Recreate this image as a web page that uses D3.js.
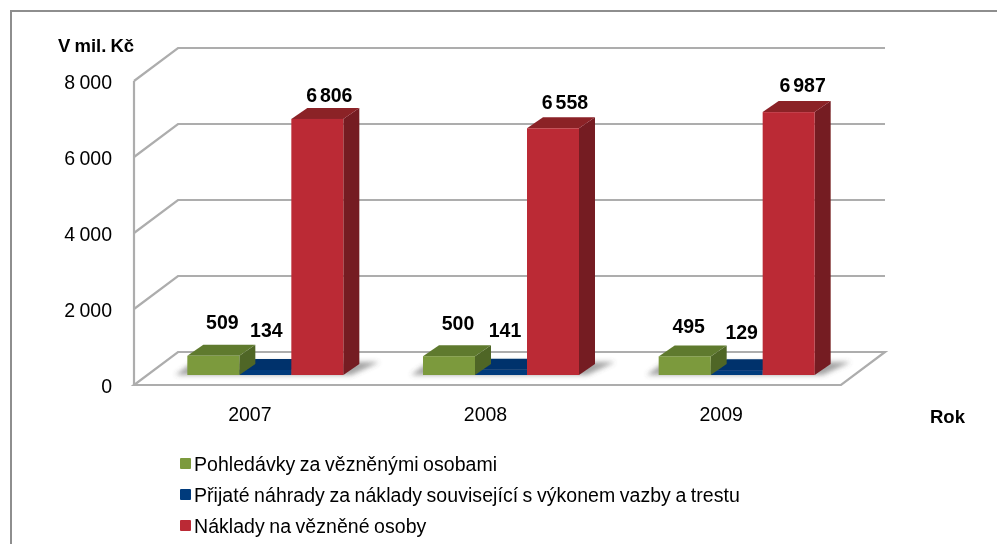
<!DOCTYPE html>
<html lang="cs">
<head>
<meta charset="utf-8">
<title>Náklady na vězněné osoby</title>
<script src="https://cdn.jsdelivr.net/npm/d3@7"></script>
<style>
  html, body { margin: 0; padding: 0; background: #fff; }
  svg { display: block; }
  text { font-family: "Liberation Sans", Arial, sans-serif; fill: #000; }
  .axis text { font-size: 19.5px; word-spacing: -1px; }
  .axis path, .axis line { display: none; }
  .val { font-size: 19.5px; font-weight: bold; text-anchor: middle; word-spacing: -2.5px; }
  .title { font-size: 18.5px; font-weight: bold; word-spacing: -1px; }
  .legend text { font-size: 19.5px; word-spacing: -1px; letter-spacing: 0.05px; }
</style>
</head>
<body>
<div id="chart"></div>
<script>
const years = ['2007', '2008', '2009'];
const seriesNames = [
  'Pohledávky za vězněnými osobami',
  'Přijaté náhrady za náklady související s výkonem vazby a trestu',
  'Náklady na vězněné osoby'
];
const pohledavky = [509, 500, 495];
const nahrady = [134, 141, 129];
const naklady = [6806, 6558, 6987];
const yTicks = [0, 2000, 4000, 6000, 8000];

const seriesColors = [
  { front: '#7c9a3d', top: '#5f7a2f', side: '#4f6628' },
  { front: '#063a7c', top: '#02326c', side: '#02295a' },
  { front: '#bb2a35', top: '#8b2028', side: '#741a20' }
];
const seriesValues = [pohledavky, nahrady, naklady];

// ruční posuny popisků oproti středu sloupce
const labelShift = [
  [{ x: 9, y: -16 }, { x: 9, y: -15 }, { x: 4, y: -12 }],
  [{ x: 1, y: -22 }, { x: 4, y: -22 }, { x: 5, y: -20 }],
  [{ x: 12, y: -6 }, { x: 12, y: -8 }, { x: 14, y: -9 }]
];

const W = 997, H = 544;
const axisLeft = 134, axisRight = 841, axisBottom = 385, axisTop = 81;
const wallDx = 44, wallDy = -33;        // hloubka grafu
const barDx = 13.5;                     // posun sloupce od přední hrany
const barBase = 375, barTop = 74;       // sloupce stojí uprostřed hloubky
const depthDx = 16, depthDy = -11;      // hloubka sloupce
const grid = '#adadad';

const svg = d3.select('#chart').append('svg').attr('width', W).attr('height', H);

const defs = svg.append('defs');
defs.append('filter').attr('id', 'soft')
  .attr('x', '-2%').attr('y', '-2%').attr('width', '104%').attr('height', '104%')
  .append('feGaussianBlur').attr('stdDeviation', 0.45);
defs.append('filter').attr('id', 'shadow')
  .attr('x', '-30%').attr('y', '-50%').attr('width', '160%').attr('height', '200%')
  .append('feGaussianBlur').attr('stdDeviation', 2.5);

const root = svg.append('g').attr('filter', 'url(#soft)');

// rámeček je vidět jen nahoře a vlevo
root.append('path')
  .attr('d', d3.line()([[11, H + 10], [11, 11], [W + 10, 11]]))
  .attr('fill', 'none').attr('stroke', '#8e8e8e').attr('stroke-width', 2);

const y = d3.scaleLinear().domain([0, 8000]).range([axisBottom, axisTop]);
const yBar = d3.scaleLinear().domain([0, 8000]).range([barBase, barTop]);
const x0 = d3.scaleBand().domain(years).range([axisLeft, axisRight]);
const x1 = d3.scaleBand().domain(d3.range(3)).range([0, 156]);
const fmt = d3.formatLocale({ thousands: ' ', grouping: [3], decimal: ',', currency: ['', ' Kč'] }).format(',');
const groupX = yr => x0(yr) + (x0.bandwidth() - 156) / 2 + barDx;

// Grid (stěny a podlaha)
const wall = root.append('g').attr('fill', 'none').attr('stroke', grid).attr('stroke-width', 2.2);
yTicks.filter(d => d > 0).forEach(d => {
  wall.append('path').attr('d', d3.line()([
    [axisLeft, y(d)], [axisLeft + wallDx, y(d) + wallDy], [axisRight + wallDx, y(d) + wallDy]
  ]));
});
wall.append('path').attr('d', d3.line()([
  [axisLeft, axisBottom], [axisRight, axisBottom], [axisRight + wallDx, axisBottom + wallDy],
  [axisLeft + wallDx, axisBottom + wallDy]
]) + 'Z');
wall.append('path').attr('d', d3.line()([[axisLeft, axisTop], [axisLeft, axisBottom]]));

// Stín pod sloupci
years.forEach(yr => {
  const bx = groupX(yr);
  root.append('path')
    .attr('d', d3.line()([
      [bx - 12, barBase], [bx + 164, barBase], [bx + 192, barBase - 13], [bx + 6, barBase - 13]
    ]) + 'Z')
    .attr('fill', '#666').attr('opacity', 0.6).attr('filter', 'url(#shadow)');
});

// Sloupce: modrá se kreslí první, protože zelená boční stěna ji překrývá
const drawOrder = [1, 0, 2];
const bars = root.append('g');
years.forEach((yr, i) => {
  const gx = groupX(yr);
  drawOrder.forEach(s => {
    const v = seriesValues[s][i];
    const c = seriesColors[s];
    const xl = gx + x1(s), xr = xl + x1.bandwidth();
    const yt = yBar(v), yb = yBar(0);
    const g = bars.append('g');
    g.append('path').attr('fill', c.side).attr('d', d3.line()([
      [xr, yt], [xr + depthDx, yt + depthDy], [xr + depthDx, yb + depthDy], [xr, yb]
    ]) + 'Z');
    g.append('path').attr('fill', c.top).attr('d', d3.line()([
      [xl, yt], [xl + depthDx, yt + depthDy], [xr + depthDx, yt + depthDy], [xr, yt]
    ]) + 'Z');
    g.append('rect').attr('x', xl).attr('y', yt)
      .attr('width', xr - xl).attr('height', yb - yt).attr('fill', c.front);
  });
});

// Popisky hodnot
years.forEach((yr, i) => {
  const gx = groupX(yr);
  seriesValues.forEach((vals, s) => {
    const shift = labelShift[s][i];
    root.append('text').attr('class', 'val')
      .attr('x', gx + x1(s) + x1.bandwidth() / 2 + shift.x)
      .attr('y', yBar(vals[i]) + depthDy + shift.y)
      .text(fmt(vals[i]));
  });
});

// Axes
root.append('g').attr('class', 'axis')
  .attr('transform', `translate(112,1.5)`)
  .call(d3.axisLeft(y).tickValues(yTicks).tickFormat(fmt).tickSize(0).tickPadding(0));
root.append('g').attr('class', 'axis')
  .attr('transform', `translate(-2,407)`)
  .call(d3.axisBottom(x0).tickSize(0).tickPadding(0));

root.append('text').attr('class', 'title').attr('x', 58).attr('y', 52).text('V mil. Kč');
root.append('text').attr('class', 'title').attr('x', 930).attr('y', 423).text('Rok');

// Legend
const legend = root.append('g').attr('class', 'legend');
seriesNames.forEach((name, i) => {
  const ly = 464 + i * 31;
  legend.append('rect').attr('x', 180).attr('y', ly - 6).attr('width', 11).attr('height', 11)
    .attr('rx', 1).attr('fill', seriesColors[i].front);
  legend.append('text').attr('x', 194).attr('y', ly + 7).text(name);
});
</script>
</body>
</html>
